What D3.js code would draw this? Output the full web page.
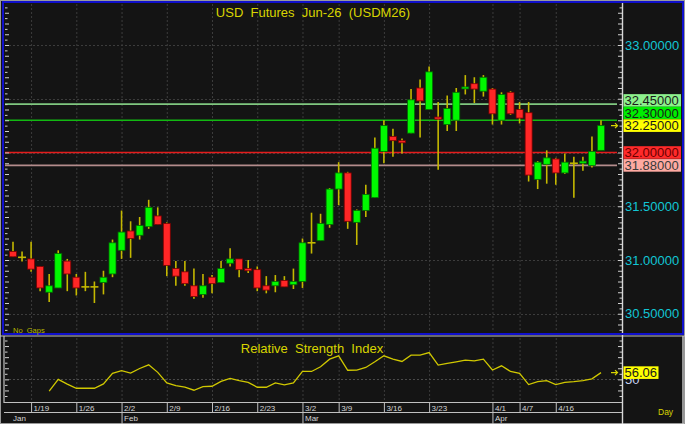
<!DOCTYPE html>
<html><head><meta charset="utf-8">
<script src="https://cdn.jsdelivr.net/npm/d3@7"></script>
<style>
html,body{margin:0;padding:0;background:#141414;overflow:hidden}
svg{display:block}
text{font-family:Arial,"Liberation Sans",sans-serif}
</style>
</head><body>
<svg id="c" width="685" height="424"></svg>
<script>
// ---------------- DATA ----------------
const dates = ["1/15","1/16","1/19","1/20","1/21","1/22","1/23","1/26","1/27","1/28","1/29","1/30",
"2/2","2/3","2/4","2/5","2/6","2/9","2/10","2/11","2/12","2/13","2/16","2/17","2/18","2/19","2/20",
"2/23","2/24","2/25","2/26","2/27","3/2","3/3","3/4","3/5","3/9","3/10","3/11","3/12","3/13",
"3/16","3/17","3/18","3/19","3/20","3/23","3/24","3/25","3/26","3/27","3/30","3/31",
"4/1","4/2","4/6","4/7","4/8","4/9","4/10","4/16","4/17","4/20","4/21","4/22","4/23"];

const openP = [31.08,31.025,31.01,30.94,30.70,30.74,30.99,30.84,30.75,30.75,
30.79,30.87,31.09,31.27,31.23,31.31,31.41,31.34,30.92,30.89,
30.76,30.68,30.84,30.79,30.97,31.01,30.92,30.91,30.76,30.76,
30.81,30.77,30.80,31.16,31.18,31.33,31.66,31.81,31.35,31.46,
31.58,32.01,32.15,32.11,32.18,32.60,32.40,32.33,32.26,32.30,
32.60,32.64,32.57,32.59,32.30,32.56,32.40,32.37,31.75,31.89,
31.94,31.81,31.90,31.90,31.88,32.02];
const highP = [31.17,31.08,31.17,30.94,30.87,31.09,31.01,30.87,30.89,30.80,
30.90,31.19,31.46,31.36,31.40,31.56,31.49,31.35,30.99,30.99,
30.92,30.87,30.86,30.99,31.11,31.01,31.00,30.94,30.85,30.86,
30.85,30.92,31.20,31.44,31.43,31.67,31.91,31.82,31.47,31.70,
32.14,32.30,32.22,32.13,32.59,32.68,32.80,32.47,32.53,32.60,
32.72,32.70,32.72,32.60,32.56,32.57,32.47,32.47,31.92,32.02,
31.95,31.99,31.96,31.96,32.15,32.30];
const lowP = [31.03,30.985,30.89,30.71,30.61,30.74,30.71,30.67,30.71,30.60,
30.68,30.84,31.01,31.02,31.19,31.29,31.33,30.85,30.76,30.76,
30.64,30.65,30.69,30.79,30.94,30.84,30.88,30.71,30.69,30.70,
30.75,30.73,30.74,31.06,31.18,31.30,31.51,31.29,31.14,31.40,
31.58,31.90,31.96,31.99,32.18,32.14,32.40,31.84,32.20,32.20,
32.54,32.46,32.52,32.26,32.26,32.35,32.27,31.73,31.66,31.71,
31.70,31.80,31.58,31.83,31.86,32.02];
const closeP = [31.03,31.025,30.915,30.74,30.76,31.06,30.87,30.74,30.75,30.75,
30.84,31.16,31.26,31.20,31.32,31.49,31.33,30.95,30.85,30.78,
30.66,30.76,30.78,30.92,31.01,30.91,30.90,30.74,30.72,30.80,
30.75,30.80,31.16,31.16,31.34,31.66,31.81,31.36,31.46,31.61,
32.04,32.25,32.11,32.09,32.49,32.48,32.75,32.31,32.41,32.56,
32.61,32.59,32.70,32.36,32.54,32.36,32.32,31.79,31.91,31.95,
31.81,31.91,31.90,31.92,32.01,32.25];

const rsiValues = [null,null,null,null,39.3,50.0,45.7,42.0,42.0,42.0,
45.9,55.4,57.8,55.7,59.8,63.1,56.3,46.8,44.4,42.9,
40.2,43.5,43.8,48.2,50.9,48.8,47.3,42.9,42.9,46.8,
45.0,46.8,57.1,57.1,61.3,68.2,71.2,58.2,58.4,60.7,
65.8,71.2,68.2,66.1,71.8,71.8,74.1,62.9,64.3,65.8,
67.3,66.7,68.2,58.4,62.2,57.1,55.4,45.3,47.9,48.8,
45.3,47.3,47.9,48.8,50.4,56.06];

const levelValues = [32.45, 32.30, 32.00, 31.88];
const priceTicks = [30.5, 31.0, 31.5, 32.0, 32.5, 33.0];
const weekTicks = ["1/19","1/26","2/2","2/9","2/16","2/23","3/2","3/9","3/16","3/23","4/1","4/7","4/16"];
const monthStarts = ["1/15","2/2","3/2","4/1"];
const monthNames = ["Jan","Feb","Mar","Apr"];
const rsiMidline = 50;
const titleText = "USD  Futures  Jun-26  (USDM26)";
const rsiTitle = "Relative  Strength  Index";

// ---------------- STYLES ----------------
const levelLine = ["#80c880","#12b812","#e41c1c","#b48c8c"];
const levelFill = ["#8cf08c","#00ee00","#ff2a2a","#ffaaa2"];
const levelText = ["#1a1a1a","#1a1a1a","#6a0000","#3a3a3a"];
const BG = "#141414", GRID = "#3c3c3c", WICK = "#c4b800", YEL = "#d8d400";
const CYAN = "#12c6d4", FRAME = "#c0c0c0", BLUE = "#1010cc";

// ---------------- SCALES ----------------
const svg = d3.select("#c");
const x = d3.scalePoint().domain(dates).range([13, 601]);
const y = d3.scaleLinear().domain([30.5, 33.0]).range([313.75, 45]);
const yr = d3.scaleLinear().domain([35, 85]).range([396, 340.5]);

svg.append("rect").attr("width",685).attr("height",424).attr("fill",BG);

// clip for main plot
const defs = svg.append("defs");
defs.append("clipPath").attr("id","mainClip").append("rect").attr("x",5).attr("y",3).attr("width",617).attr("height",330);
defs.append("clipPath").attr("id","rsiClip").append("rect").attr("x",5).attr("y",337).attr("width",617).attr("height",65);

// ---------------- GRID ----------------
const grid = svg.append("g");
grid.selectAll("line.v").data(weekTicks).join("line")
  .attr("x1",d=>x(d)+0.5).attr("x2",d=>x(d)+0.5).attr("y1",4).attr("y2",332)
  .attr("stroke",GRID).attr("stroke-dasharray","2,2");
grid.selectAll("line.h").data(priceTicks).join("line")
  .attr("x1",9).attr("x2",618).attr("y1",d=>Math.round(y(d))+0.5).attr("y2",d=>Math.round(y(d))+0.5)
  .attr("stroke",GRID).attr("stroke-dasharray","2,2");
grid.selectAll("line.rv").data(weekTicks).join("line")
  .attr("x1",d=>x(d)+0.5).attr("x2",d=>x(d)+0.5).attr("y1",338).attr("y2",401)
  .attr("stroke",GRID).attr("stroke-dasharray","2,2");
grid.append("line").attr("x1",9).attr("x2",618)
  .attr("y1",Math.round(yr(rsiMidline))+0.5).attr("y2",Math.round(yr(rsiMidline))+0.5)
  .attr("stroke","#4a4a4a").attr("stroke-dasharray","2,2");

// ---------------- LEVEL LINES ----------------
const main = svg.append("g").attr("clip-path","url(#mainClip)");
main.selectAll("line.lvl").data(levelValues).join("line")
  .attr("x1",5).attr("x2",617).attr("y1",d=>y(d)).attr("y2",d=>y(d))
  .attr("stroke",(d,i)=>levelLine[i]).attr("stroke-width",1.6);

// ---------------- CANDLES ----------------
const bars = dates.map((d,i)=>({d, o:openP[i], h:highP[i], l:lowP[i], c:closeP[i]}));
const cg = main.append("g");
cg.selectAll("line.wick").data(bars).join("line")
  .attr("x1",b=>x(b.d)).attr("x2",b=>x(b.d)).attr("y1",b=>y(b.h)).attr("y2",b=>y(b.l))
  .attr("stroke",WICK).attr("stroke-width",1.6);
const bw = 7;
cg.selectAll("rect.body").data(bars.filter(b=>b.o!==b.c)).join("rect")
  .attr("x",b=>x(b.d)-bw/2).attr("width",bw)
  .attr("y",b=>Math.min(y(b.o),y(b.c)))
  .attr("height",b=>Math.max(2,Math.abs(y(b.o)-y(b.c))))
  .attr("fill",b=>b.c>b.o?"#00f800":"#ff2626")
  .attr("stroke",b=>b.c>b.o?"#006a00":"#7a0000").attr("stroke-width",0.8);
cg.selectAll("line.doji").data(bars.filter(b=>b.o===b.c)).join("line")
  .attr("x1",b=>x(b.d)-4).attr("x2",b=>x(b.d)+4).attr("y1",b=>y(b.o)).attr("y2",b=>y(b.o))
  .attr("stroke",WICK).attr("stroke-width",1.6);

// ---------------- RSI ----------------
const rsiG = svg.append("g").attr("clip-path","url(#rsiClip)");
rsiG.append("path").datum(rsiValues)
  .attr("d", d3.line().defined(v=>v!=null).x((v,i)=>x(dates[i])).y(v=>yr(v)))
  .attr("fill","none").attr("stroke","#d0c800").attr("stroke-width",1.3);

// ---------------- TICKS ----------------
function tickAxis(fn, scale, vals, size, xpos){
  const a = svg.append("g").attr("transform",`translate(${xpos},0)`)
    .call(fn(scale).tickValues(vals).tickSize(size).tickFormat(""));
  a.select(".domain").remove();
  a.selectAll("line").attr("stroke","#d0d0d0");
}
const allP = d3.range(607, 668).map(i=>i/20);
const longP = allP.filter(v=>Math.abs(v*10-Math.round(v*10))<1e-6);
const shortP = allP.filter(v=>Math.abs(v*10-Math.round(v*10))>=1e-6);
tickAxis(d3.axisRight, y, longP, 4, 5);
tickAxis(d3.axisRight, y, shortP, 2.5, 5);
tickAxis(d3.axisLeft, y, longP, 4, 622);
tickAxis(d3.axisLeft, y, shortP, 2.5, 622);
const allR = d3.range(35, 90, 5);
tickAxis(d3.axisRight, yr, allR.filter(v=>v%10===0), 4, 5);
tickAxis(d3.axisRight, yr, allR.filter(v=>v%10!==0), 2.5, 5);
tickAxis(d3.axisLeft, yr, allR.filter(v=>v%10===0), 4, 622);
tickAxis(d3.axisLeft, yr, allR.filter(v=>v%10!==0), 2.5, 622);

// ---------------- FRAMES ----------------
const fr = svg.append("g");
fr.append("rect").attr("x",0.5).attr("y",0.5).attr("width",684).attr("height",423)
  .attr("fill","none").attr("stroke","#9a9a9a");
fr.append("line").attr("x1",0).attr("x2",685).attr("y1",336).attr("y2",336).attr("stroke",FRAME).attr("stroke-width",1.2);
fr.append("line").attr("x1",4).attr("x2",4).attr("y1",336).attr("y2",403).attr("stroke",FRAME).attr("stroke-width",1.2);
fr.append("line").attr("x1",4).attr("x2",622).attr("y1",402.5).attr("y2",402.5).attr("stroke",FRAME).attr("stroke-width",1.2);
fr.append("line").attr("x1",4).attr("x2",622).attr("y1",412.5).attr("y2",412.5).attr("stroke",FRAME).attr("stroke-width",1.2);
fr.append("line").attr("x1",622.5).attr("x2",622.5).attr("y1",3).attr("y2",424).attr("stroke","#d8d8d8").attr("stroke-width",1.4);
fr.append("line").attr("x1",683).attr("x2",683).attr("y1",336).attr("y2",424).attr("stroke",FRAME).attr("stroke-width",1.5);
fr.append("rect").attr("x",3).attr("y",2).attr("width",680).attr("height",332)
  .attr("fill","none").attr("stroke",BLUE).attr("stroke-width",2);

// ---------------- DATE AXIS ----------------
const da = svg.append("g");
da.selectAll("line.wk").data(weekTicks).join("line")
  .attr("x1",d=>x(d)+0.5).attr("x2",d=>x(d)+0.5).attr("y1",403).attr("y2",d=>monthStarts.includes(d)?424:412)
  .attr("stroke",FRAME);
da.selectAll("text.wk").data(weekTicks).join("text")
  .attr("x",d=>x(d)+2.5).attr("y",411).text(d=>d)
  .attr("fill","#d4d4d4").attr("font-size",8);
da.selectAll("text.mo").data(monthStarts).join("text")
  .attr("x",(d,i)=>i===0?13:x(d)+2.5).attr("y",420.5).text((d,i)=>monthNames[i])
  .attr("fill","#d4d4d4").attr("font-size",8);
svg.append("text").attr("x",658).attr("y",415).text("Day").attr("fill",YEL).attr("font-size",8.5);

// ---------------- TITLES ----------------
svg.append("text").attr("x",313).attr("y",16.5).attr("text-anchor","middle")
  .attr("fill",YEL).attr("font-size",13).style("white-space","pre").text(titleText);
svg.append("text").attr("x",312).attr("y",353).attr("text-anchor","middle")
  .attr("fill",YEL).attr("font-size",13).style("white-space","pre").text(rsiTitle);
svg.append("text").attr("x",13).attr("y",332.5).attr("fill","#b8b400").attr("font-size",7.5)
  .style("white-space","pre").text("No  Gaps");

// ---------------- LEVEL LABELS ----------------
const lastPrice = closeP[closeP.length-1];
const lblH = 12.6;
const lbls = levelValues.map((v,i)=>({v, fill:levelFill[i], txt:levelText[i]}))
  .concat([{v:lastPrice, fill:"#ffff00", txt:"#1a1a1a", last:true}])
  .sort((a,b)=>b.v-a.v);
const li = lbls.findIndex(l=>l.last);
lbls[li].y = y(lbls[li].v);
for(let i=li-1;i>=0;i--) lbls[i].y = Math.min(y(lbls[i].v), lbls[i+1].y-lblH);
for(let i=li+1;i<lbls.length;i++) lbls[i].y = Math.max(y(lbls[i].v), lbls[i-1].y+lblH);

// price axis labels (hidden where a level label sits)
const pa = svg.append("g").attr("transform","translate(622,0)")
  .call(d3.axisRight(y).tickValues(priceTicks).tickSize(0).tickPadding(3).tickFormat(d3.format(".5f")));
pa.select(".domain").remove();
pa.attr("font-size",13).attr("font-family","Arial, 'Liberation Sans', sans-serif");
pa.selectAll("text").attr("fill",CYAN)
  .style("display",d=>lbls.some(l=>Math.abs(l.y-y(d))<lblH)?"none":null);

const lg = svg.append("g");
lg.selectAll("rect").data(lbls).join("rect")
  .attr("x",623.5).attr("width",57.5).attr("y",l=>l.y-lblH/2).attr("height",lblH)
  .attr("fill",l=>l.fill);
lg.selectAll("text").data(lbls).join("text")
  .attr("x",624.5).attr("y",l=>l.y+4.6).text(l=>d3.format(".5f")(l.v))
  .attr("fill",l=>l.txt).attr("font-size",13);

// last price arrow
function arrow(yy){
  svg.append("path").attr("d",`M611,${yy} H617.5 M615,${yy-2.5} L617.5,${yy} L615,${yy+2.5}`)
    .attr("fill","none").attr("stroke",YEL).attr("stroke-width",1.2);
}
arrow(y(lastPrice));

// RSI labels
const lastRsi = rsiValues[rsiValues.length-1];
svg.append("text").attr("x",625).attr("y",yr(rsiMidline)+5).text(rsiMidline)
  .attr("fill","#c8d2f0").attr("font-size",13);
svg.append("rect").attr("x",623.5).attr("width",35).attr("y",yr(lastRsi)-6.3).attr("height",12.6)
  .attr("fill","#ffff00");
svg.append("text").attr("x",624.5).attr("y",yr(lastRsi)+4.6).text(d3.format(".2f")(lastRsi))
  .attr("fill","#1a1a1a").attr("font-size",13);
arrow(yr(lastRsi));
</script>
</body></html>
